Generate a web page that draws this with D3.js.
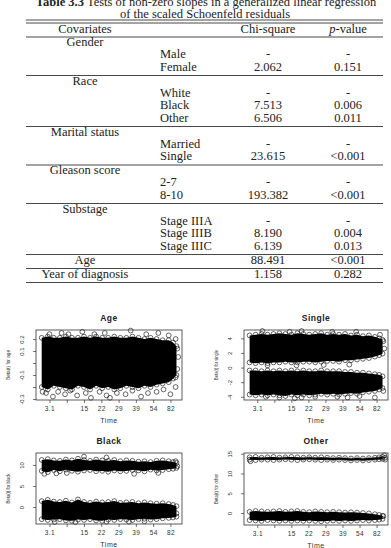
<!DOCTYPE html>
<html>
<head>
<meta charset="utf-8">
<script src="https://cdn.jsdelivr.net/npm/d3@7"></script>
<style>
body { margin: 0; background: #fff; }
</style>
</head>
<body>
<div id="chart"></div>
<script>
// ---------------- table values ----------------
var tableGroups = ["Gender", "Race", "Marital status", "Gleason score", "Substage"];
var groupLevels = [["Male", "Female"], ["White", "Black", "Other"], ["Married", "Single"], ["2-7", "8-10"], ["Stage IIIA", "Stage IIIB", "Stage IIIC"]];
var groupChi = [["-", "2.062"], ["-", "7.513", "6.506"], ["-", "23.615"], ["-", "193.382"], ["-", "8.190", "6.139"]];
var groupP = [["-", "0.151"], ["-", "0.006", "0.011"], ["-", "<0.001"], ["-", "<0.001"], ["-", "0.004", "0.013"]];
var singleRows = ["Age", "Year of diagnosis"];
var singleChi = ["88.491", "1.158"];
var singleP = ["<0.001", "0.282"];

// ---------------- residual plots ----------------
// transformed time axis: ticks are equally spaced
var timeTickPos = [0, 1, 2, 3, 4, 5, 6, 7];
var timeTickLabels = ["3.1", "", "15", "22", "29", "39", "54", "82"];
var binTime = [-0.45, -0.1, 0.25, 0.6, 0.95, 1.3, 1.65, 2.0, 2.35, 2.7, 3.05, 3.4, 3.75, 4.1, 4.45, 4.8, 5.15, 5.5, 5.85, 6.2, 6.55, 6.9, 7.15, 7.35];

var ageTicks = [-0.3, -0.2, -0.1, 0, 0.1, 0.2];
var ageTickLabels = ["-0.3", "", "-0.1", "", "0.1", "0.2"];
var ageHigh = [0.21, 0.22, 0.21, 0.21, 0.22, 0.21, 0.21, 0.22, 0.21, 0.22, 0.21, 0.21, 0.22, 0.21, 0.21, 0.22, 0.21, 0.20, 0.21, 0.20, 0.19, 0.19, 0.17, 0.14];
var ageLow = [-0.20, -0.22, -0.19, -0.20, -0.21, -0.22, -0.19, -0.20, -0.22, -0.19, -0.21, -0.20, -0.22, -0.21, -0.19, -0.20, -0.21, -0.19, -0.20, -0.18, -0.17, -0.16, -0.13, -0.10];
var ageOut = [[-0.4, -0.24], [-0.2, -0.25], [0.2, -0.28], [0.5, -0.24], [0.9, -0.26], [1.2, -0.23], [1.6, -0.27], [2.1, -0.25], [2.4, -0.29], [2.9, -0.24], [3.3, -0.27], [3.5, -0.29], [3.9, -0.25], [4.4, -0.26], [4.8, -0.23], [5.3, -0.28], [5.7, -0.25], [6.2, -0.24], [6.6, -0.22], [7.0, -0.26], [7.3, -0.2],
  [0.0, 0.24], [0.7, 0.25], [1.1, 0.24], [1.9, 0.26], [2.6, 0.24], [3.2, 0.25], [4.7, 0.27], [5.6, 0.24], [6.3, 0.25], [6.9, 0.23], [7.3, 0.2], [7.4, 0.12], [7.45, 0.05], [7.4, -0.05], [7.3, -0.12]];

var singleTicks = [-4, -2, 0, 2, 4];
var singleTickLabels = ["-4", "-2", "0", "2", "4"];
var singleHigh1 = [4.4, 4.5, 4.6, 4.5, 4.6, 4.7, 4.6, 4.5, 4.7, 4.6, 4.5, 4.6, 4.7, 4.5, 4.6, 4.5, 4.6, 4.4, 4.5, 4.3, 4.4, 4.2, 4.0, 3.8];
var singleLow1 = [0.7, 0.6, 0.7, 0.6, 0.7, 0.7, 0.8, 0.7, 0.7, 0.8, 0.8, 0.7, 0.8, 0.9, 0.9, 0.8, 1.0, 1.0, 1.1, 1.2, 1.3, 1.5, 1.7, 1.9];
var singleHigh2 = [-0.4, -0.4, -0.5, -0.4, -0.5, -0.4, -0.5, -0.4, -0.5, -0.4, -0.5, -0.5, -0.4, -0.5, -0.5, -0.5, -0.6, -0.6, -0.7, -0.7, -0.8, -0.9, -1.0, -1.2];
var singleLow2 = [-3.7, -3.8, -3.7, -3.8, -3.7, -3.8, -3.9, -3.7, -3.8, -3.7, -3.8, -3.7, -3.6, -3.7, -3.6, -3.7, -3.6, -3.5, -3.6, -3.4, -3.3, -3.2, -3.0, -2.8];
var singleOut = [[0.3, 5.0], [1.9, 4.9], [2.6, 5.0], [4.4, 4.9], [5.8, 4.9], [7.2, 4.5], [7.4, 3.6], [7.45, 2.6], [0.5, -4.0], [1.3, -4.1], [2.2, -4.2], [2.6, -4.1], [3.4, -4.0], [4.7, -4.0], [5.3, -4.1], [6.0, -3.9], [6.9, -4.1], [7.4, -3.2], [0.6, 0.3], [2.3, 0.3], [3.9, 0.35], [5.4, 0.4]];

var blackTicks = [0, 5, 10];
var blackTickLabels = ["0", "5", "10"];
var blackHigh1 = [11.2, 11.4, 11.1, 11.0, 11.3, 11.1, 11.5, 11.2, 11.0, 11.3, 11.1, 11.0, 11.2, 10.9, 11.1, 11.0, 10.8, 10.9, 10.7, 11.0, 11.1, 10.9, 10.7, 10.5];
var blackLow1 = [8.6, 8.3, 8.8, 8.5, 8.9, 8.6, 8.4, 8.7, 8.8, 8.5, 8.6, 8.4, 8.7, 8.5, 8.6, 8.8, 8.7, 8.5, 8.9, 8.7, 8.8, 9.0, 9.1, 9.3];
var blackHigh2 = [1.4, 1.7, 1.3, 1.2, 1.5, 1.1, 1.8, 1.2, 1.0, 1.3, 1.1, 1.2, 1.4, 1.0, 1.1, 1.2, 0.9, 1.1, 0.9, 0.8, 0.9, 0.7, 0.5, 0.2];
var blackLow2 = [-2.9, -3.1, -3.0, -2.9, -3.2, -3.3, -3.0, -3.1, -2.9, -3.2, -3.3, -3.0, -3.1, -2.9, -3.0, -3.1, -2.9, -2.8, -3.0, -2.9, -2.7, -2.6, -2.5, -2.3];
var blackOut = [[-0.3, 7.9], [0.4, 8.0], [1.0, 8.1], [2.0, 12.0], [3.3, 11.8], [4.9, 7.9], [6.3, 8.1], [7.3, 10.9], [7.4, 9.7], [0.3, -3.6], [1.5, -3.6], [3.3, -3.5], [4.6, -3.5], [5.5, -3.4], [7.35, -1.5]];

var otherTicks = [0, 5, 10, 15];
var otherTickLabels = ["0", "5", "10", "15"];
var otherHigh1 = [14.1, 14.2, 14.0, 14.1, 14.2, 14.0, 14.1, 14.2, 14.1, 14.0, 14.1, 14.0, 14.1, 14.0, 13.9, 14.0, 13.9, 13.8, 13.9, 13.8, 13.9, 14.0, 14.1, 14.2];
var otherLow1 = [13.5, 13.4, 13.5, 13.5, 13.4, 13.5, 13.6, 13.5, 13.4, 13.5, 13.6, 13.5, 13.4, 13.5, 13.4, 13.5, 13.4, 13.3, 13.4, 13.3, 13.4, 13.5, 13.6, 13.7];
var otherHigh2 = [0.3, 0.5, 0.4, 0.3, 0.4, 0.5, 0.3, 0.4, 0.5, 0.3, 0.2, 0.4, 0.3, 0.2, 0.3, 0.2, 0.1, 0.2, 0.1, 0.0, -0.1, -0.3, -0.5, -0.7];
var otherLow2 = [-1.8, -1.9, -2.0, -1.8, -1.9, -2.0, -1.9, -2.0, -1.9, -2.0, -1.9, -2.0, -2.1, -2.0, -1.9, -2.0, -1.9, -2.0, -1.9, -1.8, -1.9, -1.8, -1.7, -1.5];
var otherOut = [[7.45, 14.6], [7.5, 14.0], [7.5, 13.5], [-0.4, 13.1], [7.4, -0.8]];

var width = 391, height = 548;
var serif = "'Liberation Serif', 'DejaVu Serif', serif";
var sans = "'Liberation Sans', Arial, sans-serif";

var svg = d3.select("#chart").append("svg")
    .attr("width", width)
    .attr("height", height);

// ================= TABLE =================
var tbl = {left: 26, right: 383, cov: 85, level: 160, chi: 268, p: 348};

function rule(y) {
    svg.append("line")
        .attr("x1", tbl.left).attr("x2", tbl.right)
        .attr("y1", y).attr("y2", y)
        .attr("stroke", "#333").attr("stroke-width", 0.9);
}
function cell(x, y, s, anchor) {
    return svg.append("text")
        .attr("x", x).attr("y", y)
        .attr("text-anchor", anchor || "middle")
        .style("font-family", serif)
        .style("font-size", "12.5px")
        .style("fill", "#222")
        .text(s);
}

var cap = svg.append("text")
    .attr("x", 206).attr("y", 6)
    .attr("text-anchor", "middle")
    .style("font-family", serif).style("font-size", "12.5px").style("fill", "#222");
cap.append("tspan").style("font-weight", "bold").text("Table 3.3");
cap.append("tspan").text(" Tests of non-zero slopes in a generalized linear regression");
cell(205, 17.5, "of the scaled Schoenfeld residuals");

rule(20); rule(23);
cell(tbl.cov, 33, "Covariates");
cell(tbl.chi, 33, "Chi-square");
var ph = cell(tbl.p, 33, "");
ph.append("tspan").style("font-style", "italic").text("p");
ph.append("tspan").text("-value");
var ry = 37;
rule(ry);

tableGroups.forEach(function(g, gi) {
    var y = ry + 9;
    cell(tbl.cov, y, g);
    y += 12;
    groupLevels[gi].forEach(function(lv, li) {
        if (li > 0) y += 12.5;
        cell(tbl.level, y, lv, "start");
        cell(tbl.chi, y, groupChi[gi][li]);
        cell(tbl.p, y, groupP[gi][li]);
    });
    ry = y + 5;
    rule(ry);
});
singleRows.forEach(function(r, i) {
    var y = ry + 9;
    cell(tbl.cov, y, r);
    cell(tbl.chi, y, singleChi[i]);
    cell(tbl.p, y, singleP[i]);
    ry = y + 5;
    rule(ry);
});

// ================= PLOTS =================
var panels = [
    {title: "Age", ylab: "Beta(t) for age", left: 36, top: 330, w: 146, h: 70, yDomain: [-0.308, 0.275],
     ticks: ageTicks, tickLabels: ageTickLabels, bands: [[ageHigh, ageLow]], out: ageOut},
    {title: "Single", ylab: "Beta(t) for single", left: 244, top: 330, w: 144, h: 70, yDomain: [-4.44, 5.14],
     ticks: singleTicks, tickLabels: singleTickLabels, bands: [[singleHigh1, singleLow1], [singleHigh2, singleLow2]], out: singleOut},
    {title: "Black", ylab: "Beta(t) for black", left: 36, top: 453, w: 146, h: 71, yDomain: [-4.05, 12.86],
     ticks: blackTicks, tickLabels: blackTickLabels, bands: [[blackHigh1, blackLow1], [blackHigh2, blackLow2]], out: blackOut},
    {title: "Other", ylab: "Beta(t) for other", left: 244, top: 453, w: 144, h: 72, yDomain: [-3.04, 15.19],
     ticks: otherTicks, tickLabels: otherTickLabels, bands: [[otherHigh1, otherLow1], [otherHigh2, otherLow2]], out: otherOut}
];

var R = 2.4;

panels.forEach(function(p) {
    var g = svg.append("g").attr("transform", "translate(" + p.left + "," + p.top + ")");
    var x = d3.scaleLinear().domain([-0.78, 7.67]).range([0, p.w]);
    var y = d3.scaleLinear().domain(p.yDomain).range([p.h, 0]);

    // dense bands of residuals
    p.bands.forEach(function(b) {
        var hi = b[0], lo = b[1];
        var area = d3.area()
            .x(function(d, i) { return x(binTime[i]); })
            .y0(function(d, i) { return y(lo[i]); })
            .y1(function(d, i) { return y(hi[i]); });
        g.append("path").datum(binTime).attr("d", area).attr("fill", "#000");
        [hi, lo].forEach(function(edge) {
            g.selectAll(null).data(edge).enter().append("circle")
                .attr("cx", function(d, i) { return x(binTime[i]); })
                .attr("cy", function(d) { return y(d); })
                .attr("r", R)
                .attr("fill", "none").attr("stroke", "#000").attr("stroke-width", 0.6);
        });
    });
    g.selectAll(null).data(p.out).enter().append("circle")
        .attr("cx", function(d) { return x(d[0]); })
        .attr("cy", function(d) { return y(d[1]); })
        .attr("r", R)
        .attr("fill", "none").attr("stroke", "#000").attr("stroke-width", 0.6);

    // box
    g.append("rect").attr("width", p.w).attr("height", p.h)
        .attr("fill", "none").attr("stroke", "#333").attr("stroke-width", 0.8);

    // x axis
    var xa = g.append("g").attr("transform", "translate(0," + p.h + ")")
        .call(d3.axisBottom(x).tickValues(timeTickPos)
            .tickFormat(function(d, i) { return timeTickLabels[i]; })
            .tickSize(3).tickPadding(3));
    xa.select(".domain").remove();
    xa.selectAll("line").attr("stroke", "#333").attr("stroke-width", 0.7);
    xa.selectAll("text").style("font-family", sans).style("font-size", "6.5px")
        .style("letter-spacing", "0.4px").attr("fill", "#333");

    // y axis
    var ya = g.append("g")
        .call(d3.axisLeft(y).tickValues(p.ticks)
            .tickFormat(function(d, i) { return p.tickLabels[i]; })
            .tickSize(3));
    ya.select(".domain").remove();
    ya.selectAll("line").attr("stroke", "#333").attr("stroke-width", 0.7);
    ya.selectAll("text")
        .attr("x", 0).attr("y", -12).attr("dy", 0)
        .attr("transform", "rotate(-90)")
        .attr("text-anchor", "middle")
        .style("font-family", sans).style("font-size", "6px").attr("fill", "#333");

    // title and axis labels
    g.append("text").attr("x", p.w / 2).attr("y", -9)
        .attr("text-anchor", "middle")
        .style("font-family", sans).style("font-size", "8.5px").style("font-weight", "bold")
        .style("letter-spacing", "0.5px").attr("fill", "#222")
        .text(p.title);
    g.append("text").attr("x", p.w / 2).attr("y", p.h + 23)
        .attr("text-anchor", "middle")
        .style("font-family", sans).style("font-size", "7px")
        .style("letter-spacing", "0.5px").attr("fill", "#333")
        .text("Time");
    g.append("text")
        .attr("transform", "translate(-26," + (p.h / 2) + ") rotate(-90)")
        .attr("text-anchor", "middle")
        .attr("textLength", 30).attr("lengthAdjust", "spacingAndGlyphs")
        .style("font-family", sans).style("font-size", "5.5px").attr("fill", "#333")
        .text(p.ylab);
});
</script>
</body>
</html>
